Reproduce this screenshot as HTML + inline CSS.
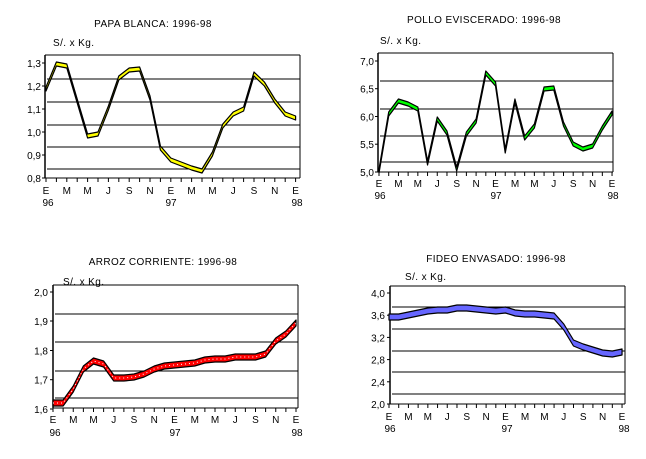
<!DOCTYPE html>
<html><head><meta charset="utf-8"><style>
html,body{margin:0;padding:0;background:#fff;}
svg{display:block;font-family:"Liberation Sans",sans-serif;font-size:10px;}
.t{letter-spacing:0.4px;}
</style></head><body>
<svg id="s" width="646" height="459" xmlns="http://www.w3.org/2000/svg">
<g fill="#000">
<text class="t" x="153" y="27" text-anchor="middle">PAPA BLANCA: 1996-98</text>
<text class="t" x="53" y="46">S/. x Kg.</text>
<g text-anchor="end">
<text x="41" y="67">1,3</text><text x="41" y="90">1,2</text><text x="41" y="113">1,1</text><text x="41" y="136">1,0</text><text x="41" y="159">0,9</text><text x="41" y="182">0,8</text>
</g>
<g text-anchor="middle">
<text x="46" y="194">E</text><text x="66.8" y="194">M</text><text x="87.6" y="194">M</text><text x="108.4" y="194">J</text><text x="129.2" y="194">S</text><text x="150" y="194">N</text><text x="170.8" y="194">E</text><text x="191.6" y="194">M</text><text x="212.4" y="194">M</text><text x="233.2" y="194">J</text><text x="254" y="194">S</text><text x="274.8" y="194">N</text><text x="295.6" y="194">E</text>
<text x="48" y="206">96</text><text x="171" y="206">97</text><text x="297" y="206">98</text>
</g>

<text class="t" x="484" y="23" text-anchor="middle">POLLO EVISCERADO: 1996-98</text>
<text class="t" x="380" y="44">S/. x Kg.</text>
<g text-anchor="end">
<text x="374" y="65">7,0</text><text x="374" y="92.7">6,5</text><text x="374" y="120.5">6,0</text><text x="374" y="148.2">5,5</text><text x="374" y="176">5,0</text>
</g>
<g text-anchor="middle">
<text x="379" y="187">E</text><text x="398.4" y="187">M</text><text x="417.8" y="187">M</text><text x="437.3" y="187">J</text><text x="456.7" y="187">S</text><text x="476.1" y="187">N</text><text x="495.5" y="187">E</text><text x="515" y="187">M</text><text x="534.4" y="187">M</text><text x="553.8" y="187">J</text><text x="573.2" y="187">S</text><text x="592.6" y="187">N</text><text x="612" y="187">E</text>
<text x="380" y="199">96</text><text x="496" y="199">97</text><text x="613" y="199">98</text>
</g>

<text class="t" x="163" y="265" text-anchor="middle">ARROZ CORRIENTE: 1996-98</text>
<text class="t" x="63" y="285">S/. x Kg.</text>
<g text-anchor="end">
<text x="48" y="296">2,0</text><text x="48" y="325">1,9</text><text x="48" y="354.5">1,8</text><text x="48" y="383.7">1,7</text><text x="48" y="413">1,6</text>
</g>
<g text-anchor="middle">
<text x="53" y="423">E</text><text x="73.25" y="423">M</text><text x="93.5" y="423">M</text><text x="113.75" y="423">J</text><text x="134" y="423">S</text><text x="154.25" y="423">N</text><text x="174.5" y="423">E</text><text x="194.75" y="423">M</text><text x="215" y="423">M</text><text x="235.25" y="423">J</text><text x="255.5" y="423">S</text><text x="275.75" y="423">N</text><text x="296" y="423">E</text>
<text x="55" y="436">96</text><text x="175" y="436">97</text><text x="297" y="436">98</text>
</g>

<text class="t" x="496" y="262" text-anchor="middle">FIDEO ENVASADO: 1996-98</text>
<text class="t" x="405" y="280">S/. x Kg.</text>
<g text-anchor="end">
<text x="385" y="297">4,0</text><text x="385" y="319.2">3,6</text><text x="385" y="341.4">3,2</text><text x="385" y="363.6">2,8</text><text x="385" y="385.8">2,4</text><text x="385" y="408">2,0</text>
</g>
<g text-anchor="middle">
<text x="389" y="420">E</text><text x="408.4" y="420">M</text><text x="427.8" y="420">M</text><text x="447.3" y="420">J</text><text x="466.7" y="420">S</text><text x="486.1" y="420">N</text><text x="505.5" y="420">E</text><text x="525" y="420">M</text><text x="544.4" y="420">M</text><text x="563.8" y="420">J</text><text x="583.2" y="420">S</text><text x="602.6" y="420">N</text><text x="622" y="420">E</text>
<text x="390" y="432">96</text><text x="507" y="432">97</text><text x="624" y="432">98</text>
</g>
</g>
<g id="g"></g>
</svg>
<script>
var NS="http://www.w3.org/2000/svg",G=document.getElementById("g");
function el(t,a){var e=document.createElementNS(NS,t);for(var k in a)e.setAttribute(k,a[k]);G.appendChild(e);return e;}
function chart(c){
 el("line",{x1:c.l,y1:c.t,x2:c.r,y2:c.t,stroke:"#000"});
 el("line",{x1:c.r,y1:c.t,x2:c.r,y2:c.b,stroke:"#000"});
 c.grid.forEach(function(y){el("line",{x1:c.l+2,y1:y,x2:c.r,y2:y,stroke:"#000"});});
 el("line",{x1:c.l,y1:c.t,x2:c.l,y2:c.b,stroke:"#000","stroke-width":1.5});
 el("line",{x1:c.l,y1:c.b,x2:c.r,y2:c.b,stroke:"#000"});
 c.yt.forEach(function(y){el("line",{x1:c.l-3,y1:y,x2:c.l,y2:y,stroke:"#000"});});
 for(var i=0;i<25;i++){var x=c.x0+c.dx*i;el("line",{x1:x,y1:c.b,x2:x,y2:c.b+4,stroke:"#000"});}
 var top=[],bot=[];
 c.d.forEach(function(y,i){var x=c.x0+c.dx*i;top.push(x+","+y);});
 for(var i=c.d.length-1;i>=0;i--){bot.push((c.x0+c.dx*i)+","+(c.d[i]+c.w));}
 el("polygon",{points:top.concat(bot).join(" "),fill:c.col,stroke:"#000","stroke-width":1.2,"stroke-linejoin":"round"});
 if(c.dots){var p=c.d.map(function(y,i){return (c.x0+c.dx*i)+","+(y+c.w/2);}).join(" ");
  el("polyline",{points:p,fill:"none",stroke:"#fff","stroke-width":1,"stroke-dasharray":"1 3"});}
}
chart({l:45,r:300,t:55,b:178,grid:[79,102,125,147,169],yt:[63,86,109,132,155,178],x0:46,dx:10.4,w:4,col:"#ffff00",
 d:[87,62,64,99,134,132,106,76,68,67,96,146,158,162,166,169,152,124,112,107,72,82,99,112,116]});
chart({l:378,r:613,t:53,b:172,grid:[81,109,136,162],yt:[61,88.7,116.5,144.2,172],x0:379,dx:9.71,w:4,col:"#00ff00",
 d:[169,112,99,102,107,161,117,131,167,132,119,71,82,149,99,136,124,87,86,122,142,147,144,126,111]});
chart({l:53,r:298,t:285,b:408,grid:[314,342,371,398],yt:[292,321,350.5,379.7,409],x0:53,dx:10.125,w:6,col:"#ff0000",dots:true,
 d:[400,400,386,366,358,361,375,375,374,371,366,363,362,361,360,357,356,356,354,354,354,351,338,331,320]});
chart({l:390,r:625,t:286,b:404,grid:[307,329,351,372,394],yt:[293,315.2,337.4,359.6,381.8,404],x0:389,dx:9.71,w:6,col:"#6666ff",
 d:[314,314,312,310,308,307,307,305,305,306,307,308,307,310,311,311,312,313,324,340,344,347,350,351,349]});
</script>
</body></html>
